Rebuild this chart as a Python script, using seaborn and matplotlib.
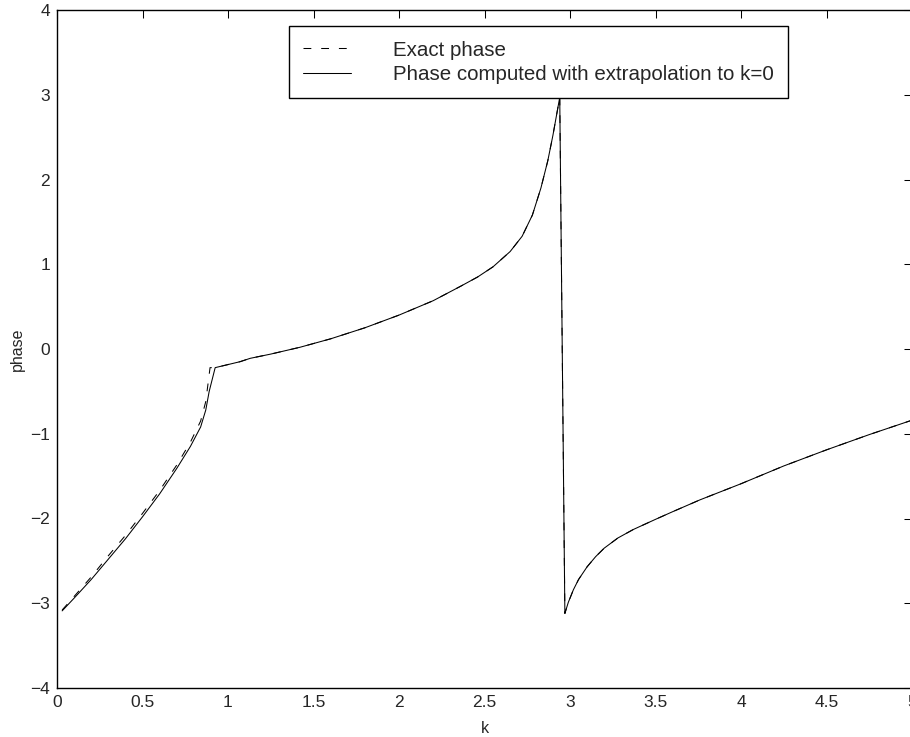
import matplotlib
matplotlib.use("Agg")
import matplotlib.pyplot as plt
from matplotlib.ticker import FormatStrFormatter
import seaborn as sns

# data
K_EXACT = [0.03, 0.10, 0.20, 0.30, 0.40, 0.50, 0.60, 0.70, 0.78, 0.84, 0.87, 0.895, 0.925,
           1.07, 1.13, 1.25, 1.42, 1.60, 1.80, 2.00, 2.20, 2.36, 2.46, 2.55, 2.65, 2.72,
           2.78, 2.83, 2.87, 2.90, 2.94, 2.97, 2.99, 3.02, 3.05, 3.10, 3.15, 3.20, 3.28,
           3.37, 3.50, 3.60, 3.76, 4.00, 4.25, 4.50, 4.75, 5.00]
PHASE_EXACT = [-3.08, -2.92, -2.69, -2.44, -2.20, -1.94, -1.67, -1.37, -1.10, -0.85, -0.62, -0.22, -0.22,
               -0.15, -0.11, -0.06, 0.02, 0.12, 0.25, 0.40, 0.57, 0.74, 0.85, 0.97, 1.15, 1.33,
               1.58, 1.90, 2.22, 2.52, 2.97, -3.12, -2.99, -2.84, -2.72, -2.57, -2.45, -2.35, -2.23,
               -2.13, -2.01, -1.92, -1.78, -1.59, -1.38, -1.19, -1.01, -0.84]

K_COMP = [0.03, 0.10, 0.20, 0.30, 0.40, 0.50, 0.60, 0.70, 0.78, 0.84, 0.87, 0.89, 0.925,
          1.07, 1.13, 1.25, 1.42, 1.60, 1.80, 2.00, 2.20, 2.36, 2.46, 2.55, 2.65, 2.72,
          2.78, 2.83, 2.87, 2.90, 2.94, 2.97, 2.99, 3.02, 3.05, 3.10, 3.15, 3.20, 3.28,
          3.37, 3.50, 3.60, 3.76, 4.00, 4.25, 4.50, 4.75, 5.00]
PHASE_COMP = [-3.09, -2.94, -2.72, -2.48, -2.24, -1.98, -1.71, -1.41, -1.15, -0.92, -0.72, -0.50, -0.22,
              -0.15, -0.11, -0.06, 0.02, 0.12, 0.25, 0.40, 0.57, 0.74, 0.85, 0.97, 1.15, 1.33,
              1.58, 1.90, 2.22, 2.52, 2.97, -3.12, -2.99, -2.84, -2.72, -2.57, -2.45, -2.35, -2.23,
              -2.13, -2.01, -1.92, -1.78, -1.59, -1.38, -1.19, -1.01, -0.84]

LABEL_EXACT = "Exact phase"
LABEL_COMP = "Phase computed with extrapolation to k=0"
X_TICKS = [0, 0.5, 1, 1.5, 2, 2.5, 3, 3.5, 4, 4.5, 5]
Y_TICKS = [-4, -3, -2, -1, 0, 1, 2, 3, 4]

sns.set_theme(style="white")
plt.rcParams["font.family"] = ["Liberation Sans", "DejaVu Sans"]
plt.rcParams["axes.unicode_minus"] = True

fig = plt.figure(figsize=(9.10, 7.37), dpi=100)
ax = fig.add_axes([57 / 910, 1 - 688 / 737, 855 / 910, 678 / 737])

sns.lineplot(x=K_EXACT, y=PHASE_EXACT, ax=ax, color="black", linewidth=0.75,
             linestyle=(0, (7.5, 9.5)), estimator=None, sort=False, label=LABEL_EXACT)
sns.lineplot(x=K_COMP, y=PHASE_COMP, ax=ax, color="black", linewidth=0.75,
             estimator=None, sort=False, label=LABEL_COMP)

ax.set_xlim(0, 5)
ax.set_ylim(-4, 4)
ax.set_xticks(X_TICKS)
ax.set_yticks(Y_TICKS)
ax.xaxis.set_major_formatter(FormatStrFormatter("%g"))
ax.tick_params(direction="in", length=5.8, width=0.75, color="black",
               top=True, right=True, labelsize=12.5, pad=5)
for s in ax.spines.values():
    s.set_color("black")
    s.set_linewidth(1.0)

ax.set_xlabel("k", fontsize=11.5, labelpad=8)
ax.set_ylabel("phase", fontsize=11.5, labelpad=4)

leg = ax.legend(loc="upper left", bbox_to_anchor=(0.271, 0.976), fontsize=14.8,
                frameon=True, fancybox=False, edgecolor="black", framealpha=1,
                handlelength=2.35, handletextpad=2.0, labelspacing=0.25,
                borderpad=0.7, borderaxespad=0)
leg.get_frame().set_linewidth(1.0)

fig.savefig("out.png", dpi=100)
